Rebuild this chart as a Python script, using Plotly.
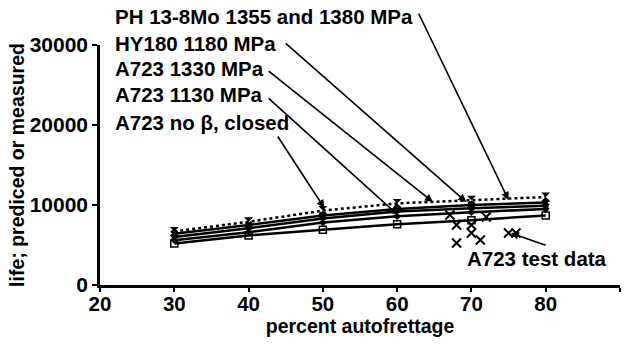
import plotly.graph_objects as go

autofrettage = [30, 40, 50, 60, 70, 80]
ph13_8mo = [6700, 7900, 9300, 10200, 10600, 11000]
hy180 = [6400, 7500, 8700, 9500, 10000, 10300]
a723_1330 = [6000, 7100, 8300, 9200, 9600, 9900]
a723_1130 = [5600, 6600, 7800, 8600, 9100, 9500]
a723_no_beta = [5200, 6200, 6900, 7600, 8100, 8700]

test_x = [67.1, 68.0, 68.0, 70.0, 70.0, 71.2, 72.0, 75.0, 76.0]
test_y = [8750, 7500, 5250, 7500, 6500, 5625, 8500, 6500, 6500]

series_labels = ["PH 13-8Mo 1355 and 1380 MPa", "HY180 1180 MPa", "A723 1330 MPa",
                 "A723 1130 MPa", "A723 no β, closed"]
test_label = "A723 test data"

FONT = "Liberation Sans, Arial, sans-serif"
BLACK = "#000000"
FS = 20.5

fig = go.Figure()
fig.add_trace(go.Scatter(x=autofrettage, y=a723_no_beta, mode="lines+markers",
                         line=dict(color=BLACK, width=2.5),
                         marker=dict(symbol="square-open", size=7, color=BLACK, line=dict(width=1.5))))
fig.add_trace(go.Scatter(x=autofrettage, y=a723_1130, mode="lines+markers",
                         line=dict(color=BLACK, width=2.5),
                         marker=dict(symbol="diamond", size=6, color=BLACK)))
fig.add_trace(go.Scatter(x=autofrettage, y=a723_1330, mode="lines+markers",
                         line=dict(color=BLACK, width=2.5),
                         marker=dict(symbol="triangle-up", size=6, color=BLACK)))
fig.add_trace(go.Scatter(x=autofrettage, y=hy180, mode="lines+markers",
                         line=dict(color=BLACK, width=2.5),
                         marker=dict(symbol="x", size=7, color=BLACK)))
fig.add_trace(go.Scatter(x=autofrettage, y=ph13_8mo, mode="lines+markers",
                         line=dict(color=BLACK, width=2.5, dash="dot"),
                         marker=dict(symbol="hourglass", size=9, color=BLACK)))
fig.add_trace(go.Scatter(x=test_x, y=test_y, mode="markers",
                         marker=dict(symbol="x-thin", size=9, color=BLACK,
                                     line=dict(width=2, color=BLACK))))

label_y = [1.117, 1.008, 0.904, 0.792, 0.679]
annotations = []
for text, yv in zip(series_labels, label_y):
    annotations.append(dict(x=0.025, y=yv, xref="paper", yref="paper", text=text, showarrow=False,
                            xanchor="left", yanchor="middle",
                            font=dict(family=FONT, size=FS, color=BLACK, weight="bold")))
annotations.append(dict(x=69.2, y=3375, xref="x", yref="y", text=test_label, showarrow=False,
                        xanchor="left", yanchor="middle",
                        font=dict(family=FONT, size=FS, color=BLACK, weight="bold")))

arrows = [
    (75.0, 10625, 62.8, 34125),
    (69.3, 10375, 44.8, 30375),
    (64.8, 10375, 42.5, 26875),
    (60.1, 8750, 42.5, 23500),
    (50.2, 9625, 43.8, 18750),
    (75.3, 6500, 80.2, 4900),
]
for hx, hy, tx, ty in arrows:
    annotations.append(dict(x=hx, y=hy, ax=tx, ay=ty, xref="x", yref="y", axref="x", ayref="y",
                            text="", showarrow=True, arrowhead=2, arrowsize=1, arrowwidth=1.6,
                            arrowcolor=BLACK, standoff=0, startstandoff=0))

fig.update_layout(
    width=631, height=347, autosize=False,
    margin=dict(l=100, r=11, t=45, b=62),
    paper_bgcolor="white", plot_bgcolor="white",
    showlegend=False,
    font=dict(family=FONT, size=FS, color=BLACK, weight="bold"),
    annotations=annotations,
    xaxis=dict(range=[20, 90], dtick=10, tick0=20, showgrid=False, zeroline=False,
               showline=True, linecolor=BLACK, linewidth=2.5,
               ticks="outside", ticklen=4, tickwidth=2, tickcolor=BLACK,
               ticklabelstandoff=-5,
               tickfont=dict(family=FONT, size=FS, color=BLACK, weight="bold"),
               title=dict(text="percent autofrettage", standoff=0,
                          font=dict(family=FONT, size=19.5, color=BLACK, weight="bold"))),
    yaxis=dict(range=[0, 30000], dtick=10000, tickformat="d", showgrid=False, zeroline=False,
               showline=True, linecolor=BLACK, linewidth=2.5,
               ticks="outside", ticklen=5, tickwidth=2, tickcolor=BLACK,
               tickfont=dict(family=FONT, size=21, color=BLACK, weight="bold"),
               title=dict(text="life; prediced or measured", standoff=0,
                          font=dict(family=FONT, size=19.5, color=BLACK, weight="bold"))),
)

fig.write_html("out.html", config={"responsive": False, "displayModeBar": False},
               post_script="document.body.style.margin='0';document.body.style.padding='0';")
